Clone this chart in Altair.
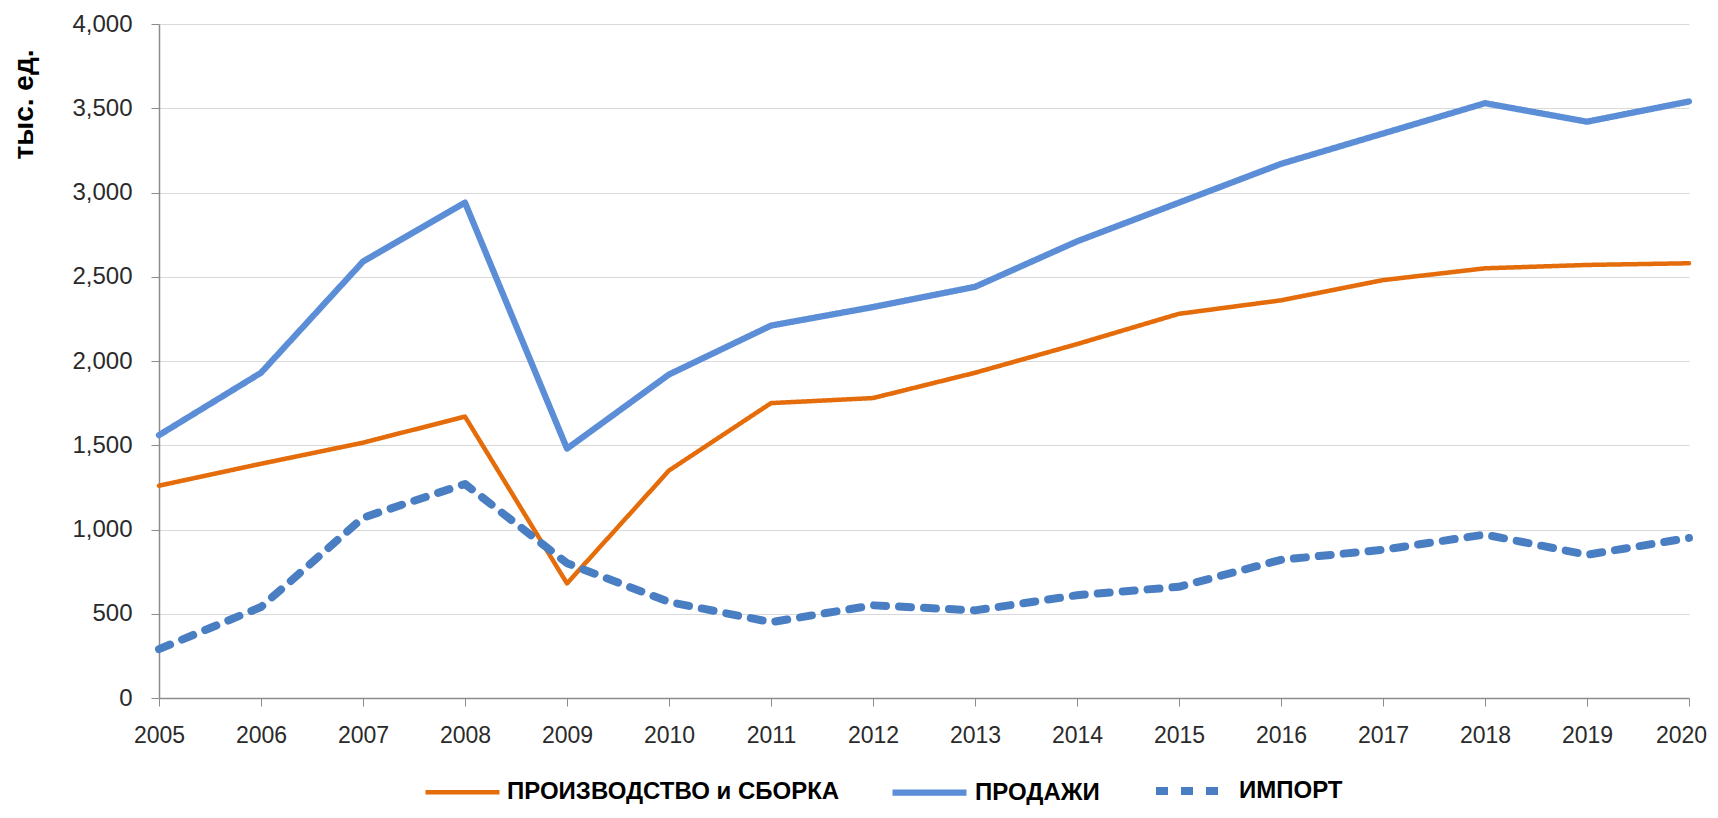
import altair as alt
import pandas as pd

years = list(range(2005, 2021))
production = [1260, 1390, 1515, 1670, 680, 1350, 1750, 1780, 1930, 2100, 2280, 2360, 2480, 2550, 2570, 2580]
sales = [1560, 1930, 2590, 2940, 1480, 1920, 2210, 2320, 2440, 2710, 2940, 3170, 3350, 3530, 3420, 3540]
imports = [290, 540, 1070, 1270, 800, 570, 450, 550, 520, 610, 660, 820, 880, 970, 850, 950]

series_names = ["ПРОИЗВОДСТВО и СБОРКА", "ПРОДАЖИ", "ИМПОРТ"]
series_colors = ["#E46C0A", "#5B8ED6", "#4A7EC2"]
series_widths = [4.5, 8, 6]
series_dashes = [[1, 0], [1, 0], [12, 13]]

rows = []
for name, vals in zip(series_names, [production, sales, imports]):
    for y, v in zip(years, vals):
        rows.append({"year": y, "value": v, "series": name})
df = pd.DataFrame(rows)

legend = alt.Legend(
    title=None, orient="none", direction="horizontal",
    legendX=264, legendY=726,
    symbolType="stroke", symbolSize=5476, symbolStrokeWidth=5,
    labelFont="Liberation Sans", labelFontSize=24, labelFontWeight="bold",
    labelColor="#000000", labelOffset=5, columnPadding=40, labelLimit=400,
)

chart = alt.Chart(df).mark_line(strokeCap="round", strokeJoin="round").encode(
    x=alt.X("year:Q", scale=alt.Scale(domain=[2005, 2020], nice=False, zero=False),
            axis=alt.Axis(values=years, format="d", title=None, grid=False,
                          labelFontSize=23, labelPadding=18, tickSize=8,
                          labelFlush=False,
                          labelOffset={"condition": {"test": "datum.value == 2020", "value": -8}, "value": 0})),
    y=alt.Y("value:Q", scale=alt.Scale(domain=[0, 4000], nice=False),
            axis=alt.Axis(values=list(range(0, 4001, 500)), format=",.0f",
                          title="тыс. ед.", titleAngle=270, titleAlign="center",
                          titleBaseline="middle", titleX=-135, titleY=80,
                          titleFontSize=28, titleFontWeight="bold", titleColor="#000000",
                          labelFontSize=24, labelPadding=19, tickSize=8)),
    color=alt.Color("series:N", scale=alt.Scale(domain=series_names, range=series_colors), legend=legend),
    strokeWidth=alt.StrokeWidth("series:N", scale=alt.Scale(domain=series_names, range=series_widths), legend=legend),
    strokeDash=alt.StrokeDash("series:N", scale=alt.Scale(domain=series_names, range=series_dashes), legend=legend),
).properties(
    width=1530, height=674,
    padding={"left": 151, "top": 16, "right": 20, "bottom": 108},
    autosize=alt.AutoSizeParams(type="none"),
).configure_axis(
    labelFont="Liberation Sans", titleFont="Liberation Sans",
    labelColor="#2a2a2a", domainColor="#8c8c8c", tickColor="#8c8c8c",
    gridColor="#d9d9d9", domainWidth=1.5,
).configure_view(stroke=None)

chart.save("out.html", embed_options={"renderer": "svg", "actions": False})
